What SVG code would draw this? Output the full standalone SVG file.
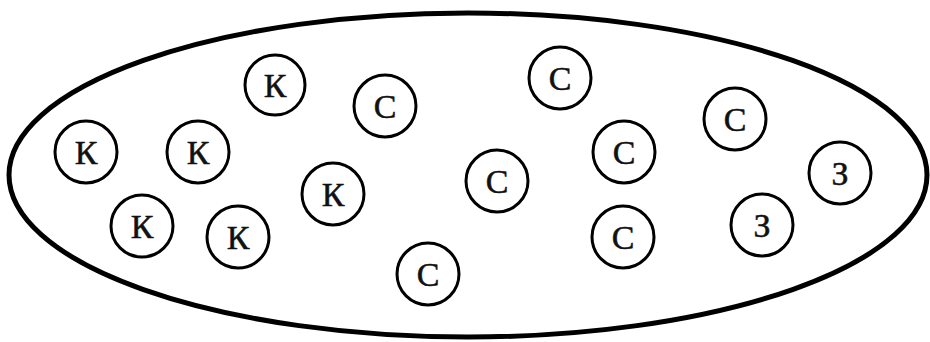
<svg xmlns="http://www.w3.org/2000/svg" width="930" height="342" viewBox="0 0 930 342">
<style>
.b{fill:none;stroke:#000;stroke-width:5}
.n circle{fill:#fff;stroke:#000;stroke-width:3}
.n text{font-family:"Liberation Serif","Times New Roman",serif;font-size:34px;text-anchor:middle;fill:#111;stroke:#111;stroke-width:0.5}
</style>
<rect width="930" height="342" fill="#fff"/>
<g id="set"><ellipse class="b" cx="468" cy="175" rx="459" ry="162"/></g>
<g id="connectors"></g>
<g id="k1" class="n"><circle cx="275" cy="85" r="30"/><text x="275" y="97">К</text></g>
<g id="c1" class="n"><circle cx="385" cy="106" r="31"/><text x="385" y="118">С</text></g>
<g id="k2" class="n"><circle cx="86" cy="152" r="31"/><text x="86" y="164">К</text></g>
<g id="k3" class="n"><circle cx="198" cy="152" r="31"/><text x="198" y="164">К</text></g>
<g id="k4" class="n"><circle cx="333" cy="194" r="31"/><text x="333" y="206">К</text></g>
<g id="k5" class="n"><circle cx="142" cy="226" r="31"/><text x="142" y="238">К</text></g>
<g id="k6" class="n"><circle cx="238" cy="237" r="31"/><text x="238" y="249">К</text></g>
<g id="c2" class="n"><circle cx="428" cy="274" r="31"/><text x="428" y="286">С</text></g>
<g id="c3" class="n"><circle cx="560" cy="78" r="31"/><text x="560" y="90">С</text></g>
<g id="c4" class="n"><circle cx="735" cy="119" r="31"/><text x="735" y="131">С</text></g>
<g id="c5" class="n"><circle cx="624" cy="152" r="31"/><text x="624" y="164">С</text></g>
<g id="c6" class="n"><circle cx="497" cy="181" r="31"/><text x="497" y="193">С</text></g>
<g id="z1" class="n"><circle cx="840" cy="173" r="31"/><text x="840" y="185">З</text></g>
<g id="z2" class="n"><circle cx="762" cy="225" r="31"/><text x="762" y="237">З</text></g>
<g id="c7" class="n"><circle cx="623" cy="237" r="31"/><text x="623" y="249">С</text></g>
</svg>
